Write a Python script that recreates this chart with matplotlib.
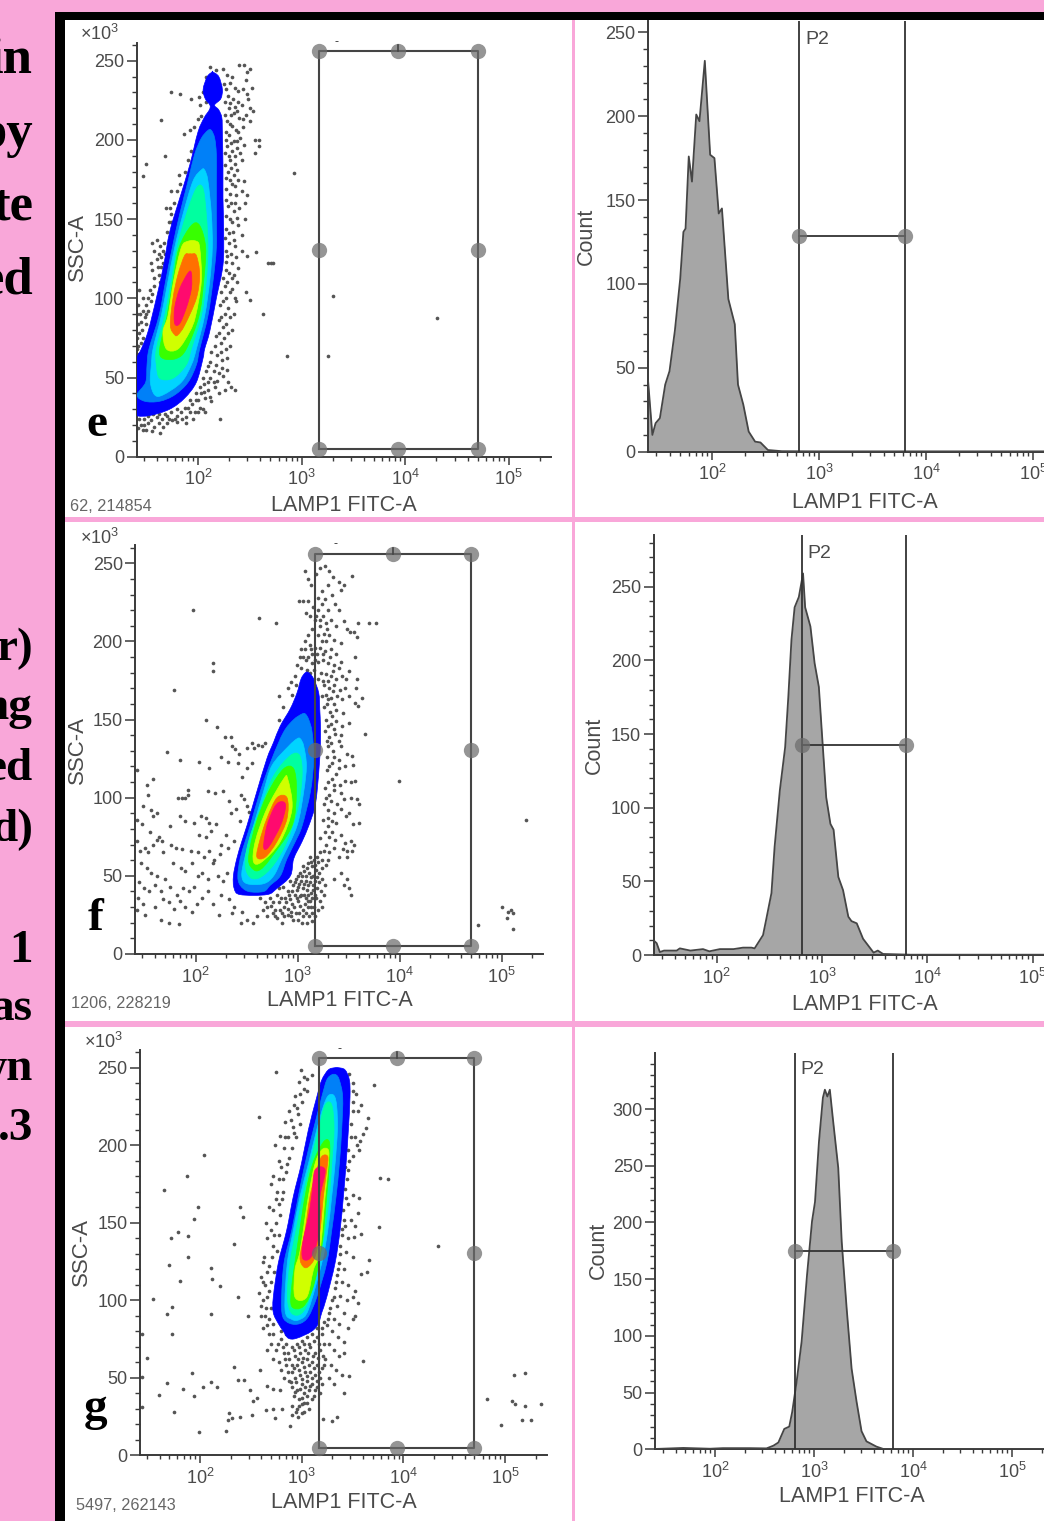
import matplotlib
matplotlib.use('Agg')
import matplotlib.pyplot as plt
from matplotlib.patches import Rectangle, PathPatch
from matplotlib.path import Path
from matplotlib.ticker import FixedLocator, FixedFormatter, LogLocator, NullFormatter, MultipleLocator
import numpy as np

W, H = 1044, 1521

plt.rcParams['font.family'] = ['Liberation Sans', 'DejaVu Sans']
plt.rcParams['mathtext.fontset'] = 'custom'
plt.rcParams['mathtext.rm'] = 'Liberation Sans'

# gate values shared by the panels
gate_x = [1470, 8600, 50000]
gate_y = [5, 130.5, 256]
hist_gate = [650, 6300]
hist_gate_count = [128.6, 142.6, 174.4]
x_ticks = [1e2, 1e3, 1e4, 1e5]
x_tick_labels = [r'$\mathdefault{10^{2}}$', r'$\mathdefault{10^{3}}$', r'$\mathdefault{10^{4}}$', r'$\mathdefault{10^{5}}$']
ssc_ticks = [0, 50, 100, 150, 200, 250]
count_ticks_e = [0, 50, 100, 150, 200, 250]
count_ticks_g = [0, 50, 100, 150, 200, 250, 300]
level_colors = ['#0000ff', '#0080f8', '#00d4ff', '#00ffa0', '#38ff00', '#d0ff00', '#ff7000', '#ff0a6e']

# histogram outlines: log10 FITC, count
hist_e_x = [1.40, 1.44, 1.47, 1.51, 1.56, 1.60, 1.65, 1.70, 1.73, 1.75, 1.78, 1.81, 1.85, 1.88, 1.93, 1.98, 2.02, 2.06, 2.09, 2.15, 2.21, 2.24, 2.29, 2.34, 2.40, 2.45, 2.52, 2.65, 3.0, 5.5]
hist_e_y = [42, 10, 17, 20, 40, 48, 72, 103, 131, 133, 176, 161, 201, 197, 233, 177, 175, 142, 145, 91, 76, 40, 28, 12, 6, 5.5, 1, 0.3, 0.2, 0.2]
hist_f_x = [1.40, 1.43, 1.46, 1.50, 1.62, 1.65, 1.75, 1.87, 1.93, 2.03, 2.16, 2.25, 2.33, 2.36, 2.40, 2.44, 2.47, 2.52, 2.55, 2.60, 2.65, 2.68, 2.71, 2.74, 2.78, 2.82, 2.84, 2.89, 2.93, 2.97, 3.01, 3.04, 3.08, 3.11, 3.155, 3.20, 3.25, 3.28, 3.33, 3.39, 3.49, 3.53, 3.58, 3.84, 5.5]
hist_f_y = [10, 8, 2, 3, 3, 4.5, 3, 4, 2.5, 4, 4, 5, 5, 4.5, 9, 13.5, 24, 42, 73.5, 112, 141, 175, 214, 236, 243, 259, 236, 223, 198, 182, 139, 107, 89, 85, 53, 44, 26, 23, 21.5, 11, 1.6, 3, 0.7, 0.2, 0.2]
hist_g_x = [1.40, 1.68, 1.95, 2.08, 2.35, 2.52, 2.59, 2.64, 2.70, 2.75, 2.78, 2.825, 2.875, 2.93, 2.98, 3.01, 3.05, 3.09, 3.11, 3.135, 3.16, 3.19, 3.245, 3.28, 3.33, 3.38, 3.43, 3.48, 3.53, 3.63, 3.70, 5.5]
hist_g_y = [0.3, 1.2, 0.5, 1, 1, 0.8, 3.2, 6, 18, 20, 33, 60, 95, 154, 201, 218, 271, 310, 317, 311, 317, 292, 248, 183, 124, 71, 42, 16, 7, 2.4, 0.3, 0.2]

# density contours: SSC, left log10 FITC, right log10 FITC for each colour level
e_levels = [
    ([26, 30, 37, 47, 62, 68, 79, 100, 121, 142, 163, 184, 205, 214, 219, 222, 226, 232, 240, 243],
     [1.405, 1.405, 1.405, 1.405, 1.412, 1.453, 1.518, 1.598, 1.669, 1.727, 1.823, 1.92, 2.0, 2.06, 2.11, 2.115, 2.07, 2.05, 2.09, 2.14],
     [1.534, 1.727, 1.871, 1.984, 2.048, 2.064, 2.113, 2.177, 2.241, 2.248, 2.241, 2.241, 2.235, 2.23, 2.2, 2.16, 2.22, 2.235, 2.2, 2.14]),
    ([35, 39, 47, 58, 68, 89, 111, 132, 153, 174, 191, 201, 206],
     [1.486, 1.412, 1.495, 1.508, 1.527, 1.624, 1.688, 1.752, 1.823, 1.904, 1.968, 2.032, 2.096],
     [1.63, 1.775, 1.904, 1.984, 2.016, 2.096, 2.145, 2.177, 2.177, 2.177, 2.177, 2.161, 2.129]),
    ([39, 47, 58, 68, 89, 111, 132, 153, 174, 181],
     [1.582, 1.54, 1.55, 1.566, 1.646, 1.711, 1.775, 1.855, 1.952, 2.032],
     [1.662, 1.839, 1.936, 1.984, 2.064, 2.113, 2.138, 2.129, 2.096, 2.064]),
    ([49.5, 58, 68, 89, 111, 132, 153, 169.5],
     [1.63, 1.598, 1.598, 1.678, 1.743, 1.797, 1.887, 1.984],
     [1.759, 1.887, 1.936, 2.032, 2.08, 2.096, 2.08, 2.048]),
    ([62, 68, 89, 111, 132, 146],
     [1.662, 1.63, 1.701, 1.759, 1.817, 1.936],
     [1.791, 1.887, 2.01, 2.055, 2.074, 2.016]),
    ([68, 79, 89, 111, 132, 136],
     [1.695, 1.662, 1.711, 1.765, 1.839, 1.904],
     [1.807, 1.92, 1.977, 2.032, 2.016, 1.984]),
    ([77, 83, 100, 115, 127, 128],
     [1.775, 1.733, 1.759, 1.807, 1.871, 1.913],
     [1.807, 1.871, 1.984, 2.016, 1.984, 1.936]),
    ([84, 94, 106, 116],
     [1.775, 1.775, 1.823, 1.904],
     [1.823, 1.887, 1.936, 1.936]),
]
f_levels = [
    ([38, 42, 50, 61, 72, 82, 93, 104, 125, 135.5, 146, 157, 167, 176, 180],
     [2.436, 2.377, 2.37, 2.403, 2.452, 2.502, 2.551, 2.6, 2.698, 2.764, 2.83, 2.928, 2.993, 3.033, 3.075],
     [2.698, 2.797, 2.928, 2.961, 3.043, 3.108, 3.164, 3.19, 3.216, 3.223, 3.223, 3.216, 3.206, 3.157, 3.108]),
    ([40, 44, 50, 61, 72, 82, 104, 125, 142, 150, 153.6],
     [2.518, 2.436, 2.413, 2.436, 2.485, 2.534, 2.633, 2.748, 2.862, 2.961, 3.043],
     [2.666, 2.731, 2.83, 2.895, 2.977, 3.043, 3.125, 3.157, 3.141, 3.108, 3.075]),
    ([45, 50, 61, 82, 104, 120.6, 133, 137.7],
     [2.502, 2.452, 2.479, 2.567, 2.666, 2.748, 2.911, 2.993],
     [2.666, 2.764, 2.846, 2.993, 3.059, 3.085, 3.059, 3.026]),
    ([49, 57, 72, 93, 114, 127],
     [2.534, 2.485, 2.518, 2.633, 2.764, 2.928],
     [2.633, 2.764, 2.895, 3.0, 3.043, 3.02]),
    ([54, 61, 82, 104, 118.5],
     [2.567, 2.518, 2.584, 2.715, 2.862],
     [2.633, 2.731, 2.944, 2.987, 2.961]),
    ([59, 72, 93, 112],
     [2.567, 2.584, 2.698, 2.862],
     [2.649, 2.83, 2.944, 2.902]),
    ([62, 72, 86.6, 100],
     [2.6, 2.626, 2.698, 2.797],
     [2.682, 2.797, 2.895, 2.895]),
    ([68.5, 82, 93, 97],
     [2.666, 2.698, 2.764, 2.813],
     [2.715, 2.83, 2.879, 2.869]),
]
g_levels = [
    ([75.5, 80, 85, 92, 102, 124, 145, 167, 188, 210, 231, 242, 248.6, 250],
     [2.869, 2.82, 2.77, 2.721, 2.721, 2.77, 2.852, 2.918, 2.997, 3.066, 3.148, 3.197, 3.262, 3.328],
     [2.951, 3.098, 3.164, 3.197, 3.246, 3.328, 3.377, 3.41, 3.436, 3.459, 3.475, 3.469, 3.426, 3.361]),
    ([85, 89.5, 102, 124, 145, 167, 188, 210, 231, 242, 245.4],
     [2.885, 2.813, 2.803, 2.826, 2.902, 2.967, 3.033, 3.115, 3.197, 3.246, 3.295],
     [2.984, 3.066, 3.148, 3.246, 3.295, 3.338, 3.37, 3.393, 3.403, 3.37, 3.338]),
    ([87.7, 94, 124, 145, 167, 188, 210, 225, 232],
     [2.902, 2.836, 2.859, 2.918, 2.984, 3.066, 3.148, 3.213, 3.262],
     [2.984, 3.066, 3.197, 3.256, 3.295, 3.328, 3.351, 3.344, 3.318]),
    ([91.6, 102, 124, 145, 167, 188, 210, 226],
     [2.902, 2.859, 2.885, 2.944, 3.01, 3.082, 3.164, 3.23],
     [3.0, 3.082, 3.164, 3.23, 3.272, 3.295, 3.318, 3.295]),
    ([96, 109, 134.6, 167, 188, 202],
     [2.902, 2.902, 2.957, 3.033, 3.108, 3.213],
     [3.016, 3.115, 3.197, 3.246, 3.272, 3.272]),
    ([102, 119.6, 132, 167, 188, 197],
     [2.934, 2.934, 2.984, 3.066, 3.131, 3.197],
     [3.049, 3.115, 3.18, 3.23, 3.262, 3.262]),
    ([121.7, 128, 145, 167, 184, 192.7],
     [3.016, 2.984, 3.033, 3.082, 3.148, 3.197],
     [3.066, 3.131, 3.18, 3.213, 3.246, 3.256]),
    ([127, 136.8, 154, 167, 184],
     [3.01, 3.01, 3.066, 3.098, 3.131],
     [3.082, 3.148, 3.18, 3.18, 3.23]),
]

# single events outside the density region: log10 FITC, SSC
e_dots = [(2.12,246),(2.17,244),(2.24,245),(2.28,241),(2.33,240),(2.4,247),(2.44,247),(2.47,243),(2.46,238),(2.5,245),(2.31,236),(2.36,233),(2.39,231),(2.43,232),(2.47,229),(2.52,233),(2.29,228),(2.34,226),(2.39,224),(2.42,222),(2.48,226),(2.5,220),(2.53,218),(2.3,220),(2.35,217),(2.4,214),(2.46,216),(2.5,212),(2.28,212),(2.33,209),(2.37,206),(2.43,208),(2.3,203),(2.35,199),(2.41,201),(2.28,196),(2.33,193),(2.38,195),(2.44,197),(2.55,200),(2.59,200),(2.59,196),(2.55,192),(2.31,187),(2.36,185),(2.42,187),(2.29,180),(2.35,178),(2.33,172),(2.39,175),(2.31,166),(2.37,165),(2.42,168),(2.44,174),(2.47,165),(2.45,160),(2.29,158),(2.35,155),(2.4,157),(2.45,150),(2.31,150),(2.27,144),(2.34,142),(2.39,146),(2.42,140),(2.3,135),(2.36,133),(2.42,130),(2.47,127),(2.28,127),(2.33,122),(2.39,119),(2.27,118),(2.33,113),(2.38,110),(2.26,108),(2.31,104),(2.36,100),(2.24,98),(2.29,94),(2.35,90),(2.22,88),(2.27,84),(2.33,80),(2.2,78),(2.25,75),(2.31,70),(2.16,70),(2.22,66),(2.28,62),(2.12,60),(2.17,58),(2.23,56),(2.28,55),(2.08,54),(2.12,50),(2.18,48),(2.24,51),(2.29,47),(2.32,44),(2.06,46),(2.1,42),(2.16,44),(2.2,40),(2.26,42),(2.36,42),(2.03,40),(2.07,37),(2.13,35),(1.98,36),(1.94,33),(2.02,31),(1.9,31),(1.97,28),(2.05,30),(1.84,28),(1.88,25),(1.95,24),(2.0,28),(2.07,28),(1.74,28),(1.8,26),(1.85,24),(1.7,26),(1.75,23),(1.8,22),(1.65,24),(1.7,21),(1.6,25),(1.62,21),(1.66,19),(1.55,23),(1.58,19),(1.48,24),(1.52,21),(1.45,20),(1.47,17),(1.56,16),(1.63,15),(1.88,21),
    (1.743,230),(1.823,229),(1.936,226),(2.01,227),(1.643,212.6),(1.862,204),(1.92,206),(1.678,190),(1.5,185),(1.469,177),(1.817,178),(1.743,168),(1.688,157),(1.727,157),(1.743,148),(1.56,135),(1.6,137),(1.63,133),(1.58,130),(1.62,128),(1.66,130),(1.55,122),(1.6,125),(1.64,126),(1.68,128),(1.56,118),(1.61,120),(1.66,122),(1.63,110),(1.58,108),(1.54,105),(1.43,105),(1.47,100),(1.42,96),(1.5,96),(1.55,98),(1.44,90),(1.49,88),(1.52,92),(1.42,84),(1.46,80),(1.5,84),(1.41,75),(1.45,72),(1.41,68),(1.43,65),(1.41,90),
    (2.926,179),(2.563,129),(2.675,122),(2.7,122),(2.72,122),(2.627,90),(2.498,99),(2.466,104),(2.363,98),(2.862,63.6),(3.254,63.6),(3.30,101.5),(2.209,24),(4.306,87.6),
    (2.25,235),(2.27,232),(2.26,224),(2.31,223),(2.36,221),(2.26,216),(2.32,216),(2.38,218),(2.43,213),(2.27,205),(2.31,210),(2.39,205),(2.27,200),(2.32,198),(2.38,199),(2.26,192),(2.3,190),(2.36,190),(2.41,192),(2.26,184),(2.32,182),(2.38,181),(2.27,176),(2.31,175),(2.36,171),(2.27,169),(2.32,160),(2.27,162),(2.36,160),(2.27,152),(2.33,148),(2.38,151),(2.26,138),(2.3,141),(2.35,137),(2.27,130),(2.32,128),(2.37,126),(2.27,123),(2.3,116),(2.24,113),(2.28,110),(2.35,115),(2.22,104),(2.27,100),(2.33,106),(2.21,96),(2.26,90),(2.31,88),(2.2,86),(2.24,82),(2.29,78),(2.17,76),(2.22,72),(2.27,68),(2.13,66),(2.18,64),(2.23,61),(2.1,57),(2.15,54),(2.2,53),(2.05,50),(2.1,47),(2.15,47),(2.02,44),(2.06,41),(2.12,38),(1.98,40),(2.0,36),(1.92,36),(1.87,31),(1.8,30),(1.92,28),(1.78,24),(1.72,24),(1.68,27),(1.62,27),(1.57,27),(1.52,26),(1.48,20),(1.43,24),(1.42,18),(1.5,17),
    (1.96,208),(2.0,213),(2.03,215),(1.98,196),(1.93,193),(1.9,187),(1.87,180),(1.83,172),(1.8,168),(1.77,160),(1.74,153),(1.72,148),(1.7,142),(1.67,135),(1.64,120),(1.62,115),(1.58,113),(1.56,103),(1.52,100),(1.5,90),(1.47,92),(1.45,85),(1.43,78),(1.47,75),(1.42,70),(2.08,224),(2.05,230),(2.02,222),(2.1,234),(2.08,240),(2.12,238)]

f_dots = [(3.07,245),(3.1,240),(3.13,236),(3.18,243),(3.22,247),(3.27,248),(3.31,245),(3.35,241),(3.4,238),(3.42,233),(3.53,242),(3.45,236),(3.3,236),(3.24,232),(3.2,228),(3.27,227),(3.34,230),(3.37,224),(3.4,220),(3.3,220),(3.25,216),(3.01,226),(3.05,226),(3.08,218),(3.12,216),(3.17,214),(3.22,210),(3.28,212),(3.33,214),(3.38,210),(3.14,208),(3.1,204),(3.2,204),(3.26,205),(3.31,204),(3.36,201),(3.45,213),(3.48,208),(3.51,206),(3.55,206),(3.59,212),(3.696,212),(3.77,211.6),(3.58,203),(3.12,198),(3.07,195),(3.17,196),(3.22,196),(3.27,194),(3.33,195),(3.38,192),(3.42,199),(3.08,188),(3.14,186),(3.2,187),(3.25,188),(3.3,186),(3.36,185),(3.42,187),(3.5,181),(3.566,190),(2.99,185),(3.03,183),(2.97,178),(3.05,176),(3.23,180),(3.28,179),(3.33,178),(3.38,176),(3.43,178),(3.26,172),(3.31,170),(3.36,172),(3.41,169),(3.47,176),(3.46,170),(3.58,176),(3.57,170),(3.24,165),(3.3,163),(3.36,160),(3.43,163),(3.5,165),(3.566,160.7),(3.59,158.8),(3.63,163.5),(3.26,158),(3.32,155),(3.38,156),(3.44,154),(3.28,150),(3.33,147),(3.38,149),(3.43,146),(3.27,143),(3.31,139),(3.37,141),(3.42,140),(3.5,148),(3.664,140.7),(3.3,133),(3.35,130),(3.42,133),(3.48,128),(3.53,127),(3.29,126),(3.34,122),(3.4,124),(3.46,120),(3.54,121),(3.29,118),(3.34,112),(3.38,115),(3.46,111),(3.52,110),(3.56,111),(3.27,106),(3.31,102),(3.36,105),(3.42,103),(3.45,99),(3.52,100),(3.58,99),(3.6,96),(3.26,96),(3.3,92),(3.36,90),(3.42,93),(3.47,88),(3.5,90),(3.54,83),(3.6,84),(3.25,86),(3.3,82),(3.34,78),(3.38,84),(3.42,76),(3.46,71),(3.52,72),(3.48,66),(3.55,70),(3.53,66),(3.22,74),(3.28,70),(3.31,65),(3.36,68),(3.4,62),(3.44,67),(3.48,62),(3.28,57),(3.36,48),(3.42,52),(3.45,44),(3.48,48),(3.5,42),(3.52,38),
    (3.99,110.8),(5.24,86),(5.0,30),(5.05,23),(5.09,28),(5.115,26),(5.06,27),(5.115,16),(4.77,18.4),
    (1.97,220),(2.616,214.7),(2.79,212),(2.17,186),(2.17,181),(1.79,169),(2.1,150),(2.21,145),(2.29,139),(2.35,139),(2.36,133),(2.39,131),(2.42,128),(2.25,126),(2.32,123),(2.41,122),(2.55,135),(2.57,132),(2.61,134),(2.65,133),(2.68,135),(2.5,132),(1.72,129),(1.85,124),(2.03,123),(2.13,119),(2.5,119),(2.55,122),(2.45,113),(2.82,150),(2.86,158),(2.82,165),(2.9,170),(2.94,166),(2.98,172),(2.93,174),
    (1.42,118),(1.58,112),(1.52,108),(1.53,102),(1.83,100),(1.87,100),(1.9,100),(1.92,105),(1.92,102),(2.12,104),(2.19,103),(2.27,104),(2.33,98),(2.44,102),(2.47,99),(2.5,95),(2.52,91),(1.48,95),(1.56,92),(1.58,88),(1.62,90),(1.42,86),(1.47,83),(1.75,82),(1.85,88),(1.9,85),(1.98,84),(2.05,88),(2.1,87),(2.13,84),(2.2,83),(2.35,90),(2.4,93),(2.43,85),(2.3,76),(2.25,70),(2.15,79),(2.1,75),(2.03,76),(1.55,78),(1.64,75),(1.67,72),(1.45,66),(1.5,68),(1.53,65),(1.42,72),(1.58,70),(1.62,73),(1.68,65),(1.76,70),(1.81,68),(1.87,67),(1.95,66),(2.02,65),(2.08,62),(2.13,66),(2.18,60),(2.24,64),(2.32,68),(2.38,72),(1.46,58),(1.52,55),(1.56,52),(1.62,50),(1.7,48),(1.78,58),(1.86,55),(1.9,53),(1.96,58),(2.02,50),(2.06,52),(2.12,48),(2.17,58),(2.22,50),(2.27,47),(2.31,52),(1.44,46),(1.49,42),(1.54,40),(1.6,44),(1.66,40),(1.75,43),(1.82,38),(1.88,42),(1.93,40),(1.98,43),(2.06,36),(2.12,40),(2.25,38),(2.33,35),(2.38,30),(1.43,36),(1.48,32),(1.6,30),(1.68,35),(1.74,33),(1.79,29),(1.85,34),(1.9,30),(1.96,27),(2.01,32),(2.17,32),(2.23,25),(2.36,26),(2.45,27),(1.42,28),(1.5,25),(1.66,22),(1.74,20),(1.84,19),(2.44,20),(2.5,22),(2.56,20),(2.6,24),
    (2.66,28),(2.7,24),(2.74,31),(2.8,23),(2.85,20),(2.9,25),(2.95,22),(3.0,22),(3.04,20),(2.68,33),(2.73,36),(2.78,28),(2.82,33),(2.87,30),(2.92,35),(2.96,30),(3.0,34),(3.05,28),(3.1,30),(3.14,26),(2.63,36),(2.8,38),(2.85,26),(2.88,36),(2.93,27),(2.97,38),(3.03,38),(3.08,36),(3.12,34),(3.16,30),(2.9,40),(2.95,44),(3.0,43),(3.05,42),(3.09,41),(3.13,39),(3.17,38),(2.86,43),(2.92,47),(2.98,48),(3.03,47),(3.08,47),(3.12,46),(3.15,44),(3.19,42),(3.22,34),(3.02,52),(3.06,53),(3.11,52),(3.15,50),(3.19,49),(3.1,58),(3.14,56),(3.18,54),(3.21,52),(3.16,60),(3.2,59),(3.24,48),(3.24,55),(3.27,44),(3.22,65),(3.26,38),(3.24,30),
    (3.1,226),(3.15,222),(3.2,220),(3.24,224),(3.18,216),(3.22,214),(3.29,208),(3.24,200),(3.28,200),(3.19,192),(3.14,192),(3.1,190),(3.05,190),(3.16,182),(3.12,180),(3.2,176),(3.25,175),(3.3,175),(3.35,168),(3.28,166),(3.39,165),(3.33,164),(3.29,160),(3.34,152),(3.3,146),(3.36,144),(3.4,136),(3.29,136),(3.33,135),(3.36,126),(3.31,120),(3.4,119),(3.3,110),(3.36,108),(3.41,108),(3.28,100),(3.33,98),(3.39,96),(3.3,87),(3.34,85),(3.27,78),(3.31,75),(3.37,73),(3.26,66),(3.24,60),(3.3,60),(3.07,200),(3.13,195),(3.03,195),(3.02,190),(3.09,182),(3.17,188),(3.25,192),(3.32,190),(3.4,183),(3.35,181),
    (2.7,30),(2.76,26),(2.72,40),(2.76,33),(2.78,24),(2.83,28),(2.87,24),(2.9,29),(2.93,24),(2.98,26),(3.01,26),(3.05,24),(3.08,26),(3.11,24),(2.84,36),(2.82,42),(2.89,33),(2.94,32),(2.99,36),(3.02,31),(3.07,32),(3.1,34),(3.13,30),(2.91,38),(2.94,40),(2.99,41),(3.02,37),(3.06,38),(3.1,38),(3.14,36),(2.97,46),(3.01,45),(3.06,45),(3.1,44),(3.15,41),(3.18,36),(3.0,50),(3.04,50),(3.08,50),(3.13,49),(3.17,47),(3.05,56),(3.09,55),(3.13,59),(3.12,62),(3.17,57),(3.19,62),(3.21,46),(3.23,40),(3.2,28),(3.17,24),(3.14,21),(3.09,20)]

g_dots = [(2.748,247.5),(2.99,248.6),(2.584,218),(2.04,194),(1.869,180),(1.646,171),(1.977,160),(1.944,152.5),(2.393,160),(2.426,153.5),(1.787,144),(1.711,140.4),(1.879,141.5),(2.334,136),(1.879,128),(1.695,123),(1.803,112.7),(2.105,121),(2.121,113.8),(2.197,109.5),(1.541,100.6),(2.37,102),(1.728,95.5),(1.679,91),(2.105,91),(2.475,90),(1.728,78),(1.426,78),(1.482,62.6),(1.426,50.8),(1.918,53),(1.679,46.5),(2.105,47.5),(2.164,44),(2.026,44),(1.836,43),(1.944,38),(1.6,39),(1.426,31),(1.744,28),(1.993,15),(2.256,15.7),(2.279,23),(2.311,24),(2.289,27),(2.393,25),(2.508,26),(2.334,56.8),(2.377,48.6),(2.433,48.6),(2.492,42),(2.525,35),(2.557,37),(2.649,29),(2.721,30),(2.803,29.7),(2.738,24),(2.885,19),(2.59,55),(2.656,45),(2.721,43),(2.787,42),
    (3.77,178.9),(3.85,178),(3.76,147),(4.337,135),(3.66,126),(3.58,117),(3.64,118),(3.6,60.8),(3.465,51),(3.416,40),(3.21,23.7),(3.3,22),(3.35,25),(5.087,52),(5.2,53.4),(4.825,36),(5.07,35.3),(5.1,33),(5.2,32),(5.35,33),(4.96,19.6),(5.17,22.8),(5.25,22.8),(3.71,239),(3.65,217.6),(3.63,211),(3.6,207),(3.57,203),(3.53,233),(3.58,226),(3.55,222),(3.5,228),(3.5,240),(3.47,246),(3.52,205),(3.54,200),(3.56,197),(3.5,193),(3.48,214),
    (3.47,190),(3.43,186),(3.45,178),(3.43,172),(3.5,168),(3.56,166),(3.46,162),(3.41,158),(3.48,152),(3.52,148),(3.55,156),(3.43,148),(3.4,142),(3.46,140),(3.51,141),(3.58,143),(3.38,135),(3.44,131),(3.5,128),(3.37,124),(3.42,120),(3.35,116),(3.4,112),(3.46,110),(3.52,106),(3.33,108),(3.38,103),(3.45,100),(3.5,102),(3.55,98),(3.3,100),(3.35,96),(3.42,92),(3.52,90),(3.27,92),(3.32,88),(3.37,85),(3.46,82),(3.5,88),(3.25,84),(3.3,80),(3.36,76),(3.42,73),(3.27,72),(3.32,68),(3.37,64),(3.42,66),(3.23,62),(3.29,58),(3.34,55),(3.4,52),(3.27,50),(3.32,46),
    (2.74,200),(2.79,206),(2.84,215),(2.88,222),(2.93,232),(2.97,241),(3.02,244),(3.05,235),(3.0,228),(2.96,220),(2.91,212),(2.87,205),(2.83,198),(2.78,190),(2.72,180),(2.7,175),(2.76,170),(2.82,178),(2.86,188),(2.9,198),(2.94,205),(2.98,214),(2.68,160),(2.72,158),(2.78,162),(2.81,165),(2.65,150),(2.7,145),(2.75,150),(2.78,142),(2.66,140),(2.72,135),(2.63,128),(2.68,122),(2.73,118),(2.6,115),(2.64,110),(2.68,106),(2.58,105),(2.62,100),(2.65,95),(2.6,90),(2.66,84),(2.72,78),(2.77,72),
    (2.62,82),(2.68,78),(2.7,72),(2.75,68),(2.8,75),(2.85,72),(2.9,70),(2.95,72),(3.0,74),(3.05,76),(3.1,78),(3.15,76),(3.2,78),(2.66,68),(2.72,62),(2.78,60),(2.83,66),(2.88,62),(2.93,64),(2.98,66),(3.03,68),(3.08,70),(3.13,66),(3.18,68),(3.22,72),(2.8,55),(2.85,58),(2.9,54),(2.95,58),(3.0,60),(3.05,62),(3.1,60),(3.15,58),(3.2,56),(2.83,50),(2.88,48),(2.93,50),(2.98,52),(3.03,54),(3.08,54),(3.13,52),(3.18,50),(2.9,44),(2.95,42),(3.0,46),(3.05,48),(3.1,46),(3.15,44),(2.92,38),(2.97,36),(3.02,40),(3.07,42),(3.12,38),(2.9,32),(2.95,30),(3.0,33),(3.05,34),(2.9,26),(2.96,25),(3.02,28),
    (2.62,125),(2.66,118),(2.7,112),(2.62,112),(2.66,102),(2.6,96),(2.64,90),(2.68,88),(2.72,85),(2.7,95),(2.71,128),(2.76,132),(2.73,142),(2.79,155),(2.75,165),(2.82,170),(2.78,178),(2.85,183),(2.8,186),(2.88,192),(2.84,205),(2.92,208),(2.89,216),(2.95,224),(2.92,226),(2.98,233),(3.02,236),(3.05,243),(3.1,245),
    (3.5,235),(3.5,222),(3.48,205),(3.46,197),(3.46,184),(3.44,166),(3.42,152),(3.4,146),(3.38,130),(3.36,120),(3.34,112),(3.32,102),(3.28,95),(3.26,88),(3.22,86),(3.2,82),(3.15,82),(3.1,84),(3.05,80),(3.0,80),(2.95,78),(2.9,76),(2.85,78),(2.8,80),
    (2.82,70),(2.87,66),(2.92,68),(2.97,70),(3.02,72),(3.07,72),(3.12,74),(3.17,72),(2.84,62),(2.9,58),(2.96,62),(3.01,63),(3.06,66),(3.11,64),(3.16,63),(3.21,64),(2.87,54),(2.92,56),(2.97,55),(3.02,57),(3.07,58),(3.12,56),(3.17,54),(3.22,58),(2.89,47),(2.94,47),(3.0,49),(3.05,51),(3.1,50),(3.15,48),(3.2,46),(2.93,41),(2.98,43),(3.03,44),(3.08,45),(3.13,42),(3.18,40),(3.0,37),(3.05,38),(3.1,36),(2.97,32),(3.02,34),(3.07,30),(2.94,28),(3.0,27)]

# panel settings are pixel positions of the axes in the reference
scatter_panels = [
    dict(dots=e_dots, levels=e_levels, left=136.7, right=551, y0=456.7, y250=60.7, top=43.3, x100=198, dec=103.6,
         ylabel_xy=(77, 247), xlabel_xy=(344, 505), id_text='62, 214854', id_xy=(70, 507), mult_xy=(80, 34)),
    dict(dots=f_dots, levels=f_levels, left=135.3, right=543, y0=954, y250=563.3, top=545, x100=195.7, dec=102,
         ylabel_xy=(77, 750), xlabel_xy=(340, 1001), id_text='1206, 228219', id_xy=(71, 1003), mult_xy=(80, 538)),
    dict(dots=g_dots, levels=g_levels, left=140, right=547, y0=1455.3, y250=1067.7, top=1050, x100=200, dec=101.7,
         ylabel_xy=(81, 1252), xlabel_xy=(344, 1502), id_text='5497, 262143', id_xy=(76, 1505), mult_xy=(84, 1042)),
]
hist_panels = [
    dict(x=hist_e_x, y=hist_e_y, left=648, right=1044, y0=451.7, ytick=250, ytick_px=32.3, top=21, x100=712.3, dec=107,
         ticks=count_ticks_e, gate=hist_gate_count[0], ylabel_xy=(586, 236), xlabel_xy=(865, 502), p2_xy=(805, 39)),
    dict(x=hist_f_x, y=hist_f_y, left=653.7, right=1044, y0=955, ytick=250, ytick_px=586.7, top=535, x100=716.7, dec=105.3,
         ticks=count_ticks_e, gate=hist_gate_count[1], ylabel_xy=(594, 745), xlabel_xy=(865, 1004), p2_xy=(807, 553)),
    dict(x=hist_g_x, y=hist_g_y, left=655.3, right=1044, y0=1449.3, ytick=300, ytick_px=1109, top=1053, x100=715, dec=99,
         ticks=count_ticks_g, gate=hist_gate_count[2], ylabel_xy=(598, 1250), xlabel_xy=(852, 1496), p2_xy=(800, 1069)),
]

ink = '#3a3a3a'
label_gray = '#4a4a4a'

fig = plt.figure(figsize=(W / 100, H / 100), dpi=100, facecolor='#f9a7d9')


def fig_xy(px, py):
    return px / W, 1 - py / H


def add_block(x0, x1, y0, y1, color):
    fig.add_artist(Rectangle((x0 / W, 1 - y1 / H), (x1 - x0) / W, (y1 - y0) / H,
                             transform=fig.transFigure, color=color, lw=0, zorder=-5))


# frame, white field and the pink dividers
add_block(55, 1044, 12, 1521, 'black')
add_block(65, 1044, 20, 1521, 'white')
add_block(65, 1044, 517, 522, '#f9a7d9')
add_block(65, 1044, 1021, 1027, '#f9a7d9')
add_block(572, 575, 20, 1521, '#f9a7d9')


def make_axes(p, y_per_px):
    ax = fig.add_axes([p['left'] / W, 1 - p['y0'] / H, (p['right'] - p['left']) / W, (p['y0'] - p['top']) / H])
    ax.patch.set_visible(False)
    ax.set_xscale('log')
    ax.set_xlim(10 ** (2 - (p['x100'] - p['left']) / p['dec']), 10 ** (2 + (p['right'] - p['x100']) / p['dec']))
    ax.set_ylim(0, (p['y0'] - p['top']) * y_per_px)
    for s in ['top', 'right']:
        ax.spines[s].set_visible(False)
    for s in ['left', 'bottom']:
        ax.spines[s].set_color(ink)
        ax.spines[s].set_linewidth(1.4)
    ax.xaxis.set_major_locator(FixedLocator(x_ticks))
    ax.xaxis.set_major_formatter(FixedFormatter(x_tick_labels))
    ax.xaxis.set_minor_locator(LogLocator(base=10, subs=range(2, 10), numticks=20))
    ax.xaxis.set_minor_formatter(NullFormatter())
    ax.yaxis.set_minor_locator(MultipleLocator(10))
    ax.tick_params(axis='x', which='major', length=6, width=1.1, color=ink, labelcolor=label_gray, labelsize=13, pad=3)
    ax.tick_params(axis='x', which='minor', length=3, width=1.0, color=ink)
    ax.tick_params(axis='y', which='major', length=7.5, width=1.1, color=ink, labelcolor=label_gray, labelsize=13, pad=1.5)
    ax.tick_params(axis='y', which='minor', length=3.5, width=1.0, color=ink)
    return ax


def set_labels(ax, p, ylabel, ysize):
    ax.set_xlabel('LAMP1 FITC-A', fontsize=15.5, color=label_gray, va='center')
    ax.xaxis.set_label_coords(*fig_xy(*p['xlabel_xy']), transform=fig.transFigure)
    ax.set_ylabel(ylabel, fontsize=ysize, color=label_gray, va='center')
    ax.yaxis.set_label_coords(*fig_xy(*p['ylabel_xy']), transform=fig.transFigure)


def contour_patch(ssc, lo, hi, color):
    # closed outline through the read points, rounded like the density contours
    px = np.array(list(lo) + list(hi)[::-1], dtype=float)
    py = np.array(list(ssc) + list(ssc)[::-1], dtype=float) / 100
    n = len(px)
    verts = [(px[0], py[0])]
    codes = [Path.MOVETO]
    for i in range(n):
        a, b, c, d = (i - 1) % n, i, (i + 1) % n, (i + 2) % n
        verts.append((px[b] + (px[c] - px[a]) / 6, py[b] + (py[c] - py[a]) / 6))
        verts.append((px[c] - (px[d] - px[b]) / 6, py[c] - (py[d] - py[b]) / 6))
        verts.append((px[c], py[c]))
        codes += [Path.CURVE4, Path.CURVE4, Path.CURVE4]
    verts = np.array(verts)
    verts = np.column_stack([10 ** verts[:, 0], verts[:, 1] * 100])
    return PathPatch(Path(verts, codes), facecolor=color, edgecolor=color, lw=0.5, zorder=3)


# density plots
for p in scatter_panels:
    ax = make_axes(p, 250 / (p['y0'] - p['y250']))
    ax.set_yticks(ssc_ticks)
    dx, dy = zip(*p['dots'])
    ax.scatter(10 ** np.array(dx), dy, s=7, color='#555555', lw=0, zorder=2)
    for level, color in zip(p['levels'], level_colors):
        ax.add_patch(contour_patch(*level, color))
    ax.plot([gate_x[0], gate_x[2], gate_x[2], gate_x[0], gate_x[0]], [gate_y[0], gate_y[0], gate_y[2], gate_y[2], gate_y[0]],
            color='#444444', lw=1.5, zorder=4, clip_on=False)
    hx, hy = [], []
    for gx in gate_x:
        for gy in gate_y:
            if gx != gate_x[1] or gy != gate_y[1]:
                hx.append(gx)
                hy.append(gy)
    ax.plot(hx, hy, 'o', ms=11, color='#6c6c6c', alpha=0.72, mew=0, zorder=5, clip_on=False)
    ax.plot([gate_x[1], gate_x[1]], [gate_y[2], gate_y[2] + 4], color='#444444', lw=1.2, zorder=6, clip_on=False)
    fig.text(*fig_xy(p['left'] + 200, p['top'] - 1), '-', fontsize=9, color='#333333', ha='center', va='center')
    set_labels(ax, p, 'SSC-A', 16)
    fig.text(*fig_xy(*p['mult_xy']), r'×10$\mathdefault{^{3}}$', fontsize=13, color=label_gray, ha='left', va='center')
    fig.text(*fig_xy(*p['id_xy']), p['id_text'], fontsize=11.7, color='#666666', ha='left', va='center')

# histograms
for p in hist_panels:
    ax = make_axes(p, p['ytick'] / (p['y0'] - p['ytick_px']))
    ax.set_yticks(p['ticks'])
    hx = 10 ** np.array(p['x'])
    ax.fill_between(hx, 0, p['y'], color='#a6a6a6', lw=0, zorder=2)
    ax.plot(hx, p['y'], color='#454545', lw=1.3, zorder=3)
    for gx in hist_gate:
        ax.axvline(gx, color='#333333', lw=1.3, zorder=4)
    ax.plot(hist_gate, [p['gate'], p['gate']], color='#333333', lw=1.3, zorder=4)
    ax.plot(hist_gate, [p['gate'], p['gate']], 'o', ms=11, color='#6c6c6c', alpha=0.72, mew=0, zorder=5)
    set_labels(ax, p, 'Count', 15.5)
    fig.text(*fig_xy(*p['p2_xy']), 'P2', fontsize=14, color=label_gray, ha='left', va='center')

# cropped caption on the left
caption = [('in', 73, 38), ('py', 147, 38), ('te', 220, 38), ('ed', 293, 38),
           ('r)', 660, 34), ('ng', 719, 34), ('ed', 780, 34), ('d)', 841, 34),
           ('1', 962, 34), ('as', 1020, 34), ('wn', 1080, 34), ('.3', 1140, 34)]
for word, base, size in caption:
    fig.text(*fig_xy(33, base), word, fontsize=size, family='Liberation Serif', weight='bold',
             color='black', ha='right', va='baseline')

for letter, lx, base in [('e', 86, 436), ('f', 88, 930), ('g', 84, 1420)]:
    fig.text(*fig_xy(lx, base), letter, fontsize=34, family='Liberation Serif', weight='bold',
             color='black', ha='left', va='baseline', zorder=10)

fig.savefig('out.png', dpi=100, facecolor=fig.get_facecolor())
